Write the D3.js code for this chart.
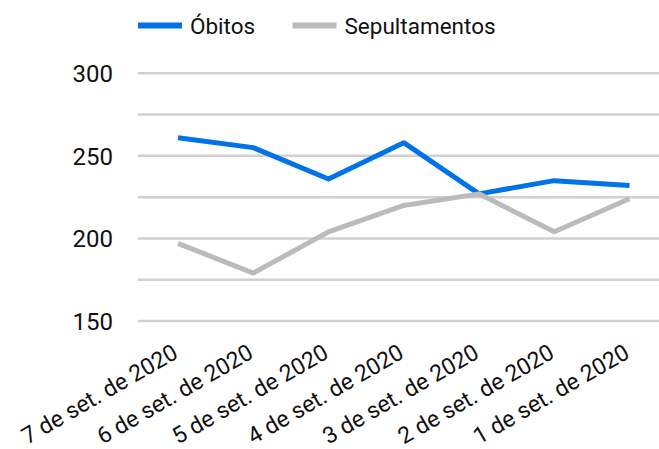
<!DOCTYPE html>
<html>
<head>
<meta charset="utf-8">
<script src="https://cdn.jsdelivr.net/npm/d3@7"></script>
<style>
  html, body { margin: 0; padding: 0; background: #ffffff; }
  svg { display: block; font-family: Roboto, "Noto Sans", sans-serif; }
</style>
</head>
<body>
<svg id="chart" width="659" height="449"></svg>
<script>
const categories = ["7 de set. de 2020", "6 de set. de 2020", "5 de set. de 2020", "4 de set. de 2020", "3 de set. de 2020", "2 de set. de 2020", "1 de set. de 2020"];
const obitos = [261, 255, 236, 258, 227, 235, 232];
const sepultamentos = [197, 179, 204, 220, 227, 204, 224];
const yTicks = [150, 175, 200, 225, 250, 275, 300];
const yLabels = [150, 200, 250, 300];
const seriesNames = ["Óbitos", "Sepultamentos"];
const seriesColors = ["#0073E6", "#BBBBBB"];

const svg = d3.select("#chart");
const gridLeft = 138, gridRight = 659;

const x = d3.scalePoint().domain(categories).range([178, 629.5]);
const y = d3.scaleLinear().domain([150, 300]).range([321, 73.3]);

// gridlines
svg.append("g").selectAll("line").data(yTicks).join("line")
  .attr("x1", gridLeft).attr("x2", gridRight)
  .attr("y1", d => y(d)).attr("y2", d => y(d))
  .attr("stroke", "#D0D0D0").attr("stroke-width", 2.5);

// y labels
svg.append("g").selectAll("text").data(yLabels).join("text")
  .attr("x", 113).attr("y", d => y(d))
  .attr("dy", "0.36em")
  .attr("text-anchor", "end")
  .attr("font-size", 24).attr("fill", "#111")
  .text(d => d);

// x labels
svg.append("g").selectAll("text").data(categories).join("text")
  .attr("transform", d => `translate(${x(d) + 1.5},${357}) rotate(-30)`)
  .attr("text-anchor", "end")
  .attr("font-size", 23).attr("fill", "#111")
  .text(d => d);

// lines
const line = d3.line().x((d, i) => x(categories[i])).y(d => y(d));
[obitos, sepultamentos].forEach((vals, k) => {
  svg.append("path").datum(vals)
    .attr("d", line)
    .attr("fill", "none")
    .attr("stroke", seriesColors[k])
    .attr("stroke-width", 5)
    .attr("stroke-linejoin", "round");
});

// legend
const legendItems = [
  { name: seriesNames[0], color: seriesColors[0], x: 138 },
  { name: seriesNames[1], color: seriesColors[1], x: 292.5 }
];
const lg = svg.append("g");
legendItems.forEach(it => {
  lg.append("line")
    .attr("x1", it.x).attr("x2", it.x + 44)
    .attr("y1", 25.5).attr("y2", 25.5)
    .attr("stroke", it.color).attr("stroke-width", 6);
  lg.append("text")
    .attr("x", it.x + 52).attr("y", 25.5)
    .attr("dy", "0.36em")
    .attr("font-size", 22.5).attr("fill", "#111")
    .text(it.name);
});
</script>
</body>
</html>
